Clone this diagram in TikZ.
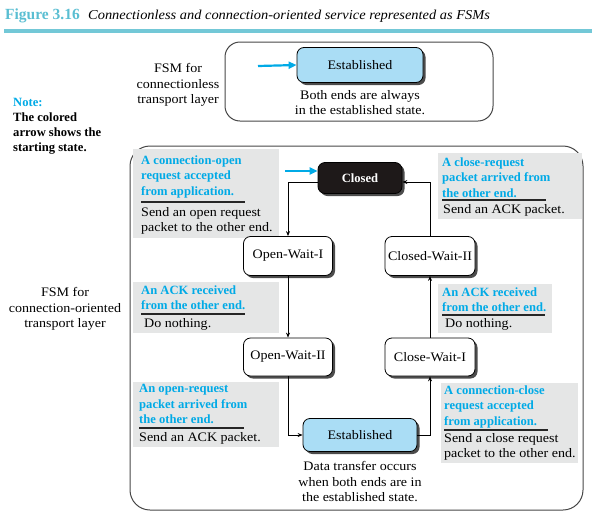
\documentclass[tikz,border=0pt]{standalone}
\usepackage{fontspec}
\setmainfont{Liberation Serif}[UprightFeatures={FakeStretch=1.08},ItalicFeatures={FakeStretch=1.06}]
\usetikzlibrary{arrows.meta,shadows}
\definecolor{cyanT}{RGB}{0,170,230}
\definecolor{titleteal}{RGB}{90,190,210}
\definecolor{ruleteal}{RGB}{115,200,215}
\definecolor{graybg}{RGB}{229,230,230}
\definecolor{lightblue}{RGB}{170,221,245}
\definecolor{closedfill}{RGB}{30,25,25}
\definecolor{framegray}{RGB}{70,70,70}
\newcommand\fsz{\fontsize{13}{15.5}\selectfont}
\newcommand\fszb{\fontsize{12.6}{15.5}\selectfont}
\begin{document}
\begin{tikzpicture}[x=1pt,y=-1pt,
  state/.style={draw=black, line width=0.8pt, rounded corners=7pt, fill=white,
    drop shadow={shadow xshift=2.5pt, shadow yshift=-2.5pt, fill=black!70, opacity=1},
    inner sep=1pt, font=\fsz},
  txt/.style={inner sep=0pt, align=center, font=\fsz},
  cond/.style={inner sep=0pt, align=left, font=\fszb\bfseries, text=cyanT},
  act/.style={inner sep=0pt, align=left, font=\fsz},
  lblbox/.style={fill=graybg},
  condrule/.style={line width=1.1pt, draw=black!85},
  frame/.style={draw=framegray, line width=1pt},
  arr/.style={-{Stealth[length=5pt,width=4pt]}, line width=0.7pt},
  startarr/.style={-{Triangle[length=8pt,width=7pt]}, line width=2.2pt, draw=cyanT}]
\useasboundingbox (0,0) rectangle (598,520);

% title
\node[inner sep=0pt, anchor=base west, text=titleteal, font=\fontsize{15.5}{18}\selectfont\bfseries] (fig) at (5,19) {Figure 3.16};
\node[inner sep=0pt, anchor=base west, font=\fontsize{13.6}{16}\selectfont\itshape] (cap) at (88,19) {Connectionless and connection-oriented service represented as FSMs};
\fill[ruleteal] (4,29) rectangle (592,33);

% connectionless FSM
\draw[frame, rounded corners=15pt] (225,42) rectangle (493,121);
\node[state, fill=lightblue, minimum width=126pt, minimum height=35pt] (est1) at (360,65) {Established};
\coordinate (s1) at (258,66);
\draw[startarr] (s1) -- (est1.west);
\node[txt, anchor=north] (both) at (360,90.2) {Both ends are always\\in the established state.};
\node[txt, anchor=north] (fsm1) at (178,63.2) {FSM for\\connectionless\\transport layer};

% note
\node[inner sep=0pt, anchor=north west, align=left, font=\fontsize{12.6}{15}\selectfont\bfseries] (note) at (13,98.4)
  {\textcolor{cyanT}{Note:}\\The colored\\arrow shows the\\starting state.};

% connection-oriented FSM
\draw[frame, rounded corners=20pt] (130,146) rectangle (583,510);
\node[txt, anchor=north] (fsm2) at (65,287.2) {FSM for\\connection-oriented\\transport layer};

% label boxes
\fill[lblbox] (133,149) rectangle (279,238);
\fill[lblbox] (438,153) rectangle (582,219);
\fill[lblbox] (133,282) rectangle (279,333);
\fill[lblbox] (438,284) rectangle (552,333);
\fill[lblbox] (133,382) rectangle (279,447);
\fill[lblbox] (441,383) rectangle (578,463);

% states
\node[state, fill=closedfill, text=white, font=\fszb\bfseries, minimum width=84pt, minimum height=31pt] (closed) at (360,178) {Closed};
\node[state, minimum width=89pt, minimum height=39pt] (ow1) at (288,256) {Open-Wait-I};
\node[state, minimum width=89pt, minimum height=38pt] (ow2) at (288,357) {Open-Wait-II};
\node[state, minimum width=90pt, minimum height=39pt] (cw2) at (430,256) {Closed-Wait-II};
\node[state, minimum width=90pt, minimum height=38pt] (cw1) at (430,357) {Close-Wait-I};
\node[state, fill=lightblue, minimum width=114pt, minimum height=33pt] (est2) at (360,435) {Established};
\node[txt, anchor=north] (data) at (360,461.2) {Data transfer occurs\\when both ends are in\\the established state.};

\coordinate (s2) at (285,171);
\draw[startarr] (s2) -- ([yshift=7pt]closed.west);

% transitions
\draw[arr] ([yshift=-4pt]closed.west) -| (ow1.north);
\draw[arr] (ow1.south) -- (ow2.north);
\draw[arr] (ow2.south) |- (est2.west);
\draw[arr] (est2.east) -| (cw1.south);
\draw[arr] (cw1.north) -- (cw2.south);
\draw[arr] (cw2.north) |- ([yshift=-4pt]closed.east);

% label texts
\node[cond, anchor=north west] (c1) at (141,155.4) {A connection-open\\request accepted\\from application.};
\draw[condrule] (141,202) -- (245,202);
\node[act, anchor=north west] (a1) at (141,207.2) {Send an open request\\packet to the other end.};

\node[cond, anchor=north west] (c2) at (442,157.4) {A close-request\\packet arrived from\\the other end.};
\draw[condrule] (442,200) -- (546,200);
\node[act, anchor=north west] (a2) at (443,204.2) {Send an ACK packet.};

\node[cond, anchor=north west] (c3) at (141,285.4) {An ACK received\\from the other end.};
\draw[condrule] (141,314) -- (245,314);
\node[act, anchor=north west] (a3) at (144,318.2) {Do nothing.};

\node[cond, anchor=north west] (c4) at (442,287.4) {An ACK received\\from the other end.};
\draw[condrule] (442,315) -- (545,315);
\node[act, anchor=north west] (a4) at (445,318.2) {Do nothing.};

\node[cond, anchor=north west] (c5) at (139,384.4) {An open-request\\packet arrived from\\the other end.};
\draw[condrule] (139,428) -- (244,428);
\node[act, anchor=north west] (a5) at (139,432.2) {Send an ACK packet.};

\node[cond, anchor=north west] (c6) at (444,385.4) {A connection-close\\request accepted\\from application.};
\draw[condrule] (444,430) -- (548,430);
\node[act, anchor=north west] (a6) at (444,433.2) {Send a close request\\packet to the other end.};
\end{tikzpicture}
\end{document}
